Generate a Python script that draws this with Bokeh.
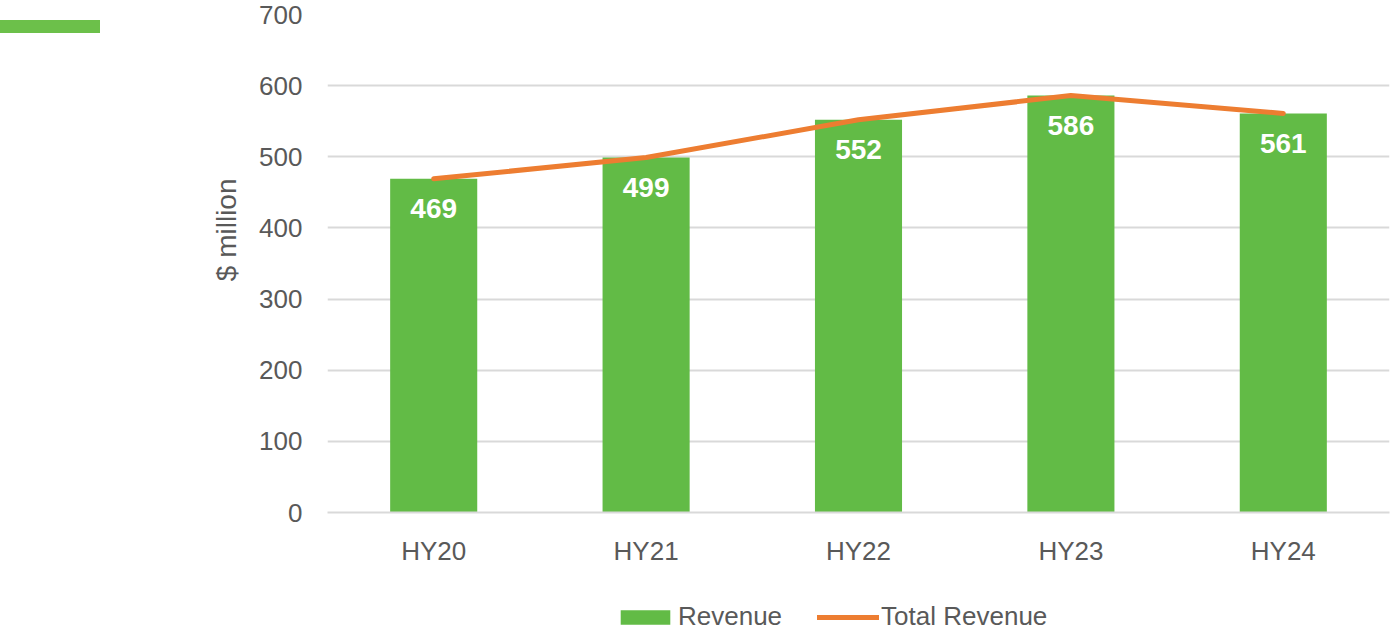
from bokeh.plotting import figure
from bokeh.models import ColumnDataSource, Legend, LegendItem, FixedTicker, Div, Range1d, Title
from bokeh.layouts import row, column
from bokeh.core.properties import value
from bokeh.embed import file_html
from bokeh.resources import INLINE

categories = ["HY20", "HY21", "HY22", "HY23", "HY24"]
revenue = [469, 499, 552, 586, 561]
total_revenue = [469, 499, 552, 586, 561]
y_ticks = [0, 100, 200, 300, 400, 500, 600, 700]
series_names = ["Revenue", "Total Revenue"]

FONT = "Liberation Sans"
GREEN = "#62BB46"
ORANGE = "#ED7D31"
GREY = "#595959"

src = ColumnDataSource(dict(cat=categories, rev=revenue, tot=total_revenue,
                            lbl=[str(v) for v in revenue]))

p = figure(width=1291, height=588, x_range=categories, y_range=(0, 700),
           output_backend="svg", toolbar_location=None,
           min_border_left=227, min_border_right=2, min_border_top=14, min_border_bottom=76)
p.outline_line_color = None
p.background_fill_color = "white"
p.border_fill_color = "white"

bars = p.vbar(x="cat", top="rev", width=0.41, source=src, fill_color=GREEN, line_color=None)
line = p.line(x="cat", y="tot", source=src, line_color=ORANGE, line_width=5, line_cap="round")
p.text(x="cat", y="rev", text="lbl", source=src, text_color="white",
       text_font=value(FONT), text_font_size="28px", text_font_style="bold",
       text_align="center", text_baseline="middle", y_offset=30)

p.yaxis.ticker = FixedTicker(ticks=y_ticks)
p.yaxis.axis_line_color = None
p.yaxis.major_tick_line_color = None
p.yaxis.minor_tick_line_color = None
p.yaxis.major_label_text_font = FONT
p.yaxis.major_label_text_font_size = "26px"
p.yaxis.major_label_text_color = GREY
p.yaxis.major_label_standoff = 19

ylabel = Title(text="$ million", text_font=FONT, text_font_size="28px",
               text_font_style="normal", text_color=GREY,
               align="right", offset=164, vertical_align="bottom", standoff=30)
p.add_layout(ylabel, "left")

p.xaxis.axis_line_color = "#D9D9D9"
p.xaxis.axis_line_width = 2
p.xaxis.major_tick_line_color = None
p.xaxis.minor_tick_line_color = None
p.xaxis.major_label_text_font = FONT
p.xaxis.major_label_text_font_size = "26px"
p.xaxis.major_label_text_color = GREY
p.xaxis.major_label_standoff = 17

p.xgrid.grid_line_color = None
p.ygrid.grid_line_color = "#D9D9D9"
p.ygrid.grid_line_width = 2

# legend strip below the chart
lg = figure(width=1391, height=44, x_range=Range1d(0, 1), y_range=Range1d(0, 1),
            output_backend="svg", toolbar_location=None,
            x_axis_type=None, y_axis_type=None,
            min_border_left=0, min_border_right=0, min_border_top=0, min_border_bottom=0)
lg.outline_line_color = None
lg.xgrid.grid_line_color = None
lg.ygrid.grid_line_color = None
lbar = lg.vbar(x=[-5], top=[-5], width=0.1, fill_color=GREEN, line_color=None)
lline = lg.line(x=[-5, -4], y=[-5, -5], line_color=ORANGE, line_width=5, line_cap="round")
legend = Legend(items=[LegendItem(label=series_names[0], renderers=[lbar]),
                       LegendItem(label=series_names[1], renderers=[lline])],
                orientation="horizontal", location=(614, 0),
                label_text_font=FONT, label_text_font_size="26px", label_text_color=GREY,
                glyph_width=62, glyph_height=18, spacing=35, label_standoff=2,
                border_line_color=None, background_fill_alpha=0, padding=0, margin=0)
lg.add_layout(legend)

deco = Div(text="", width=100, height=13, margin=(20, 0, 0, 0),
           styles={"background-color": "#6CC04A"})

layout = column(row(deco, p), lg)
open("out.html", "w").write(file_html(layout, INLINE))
